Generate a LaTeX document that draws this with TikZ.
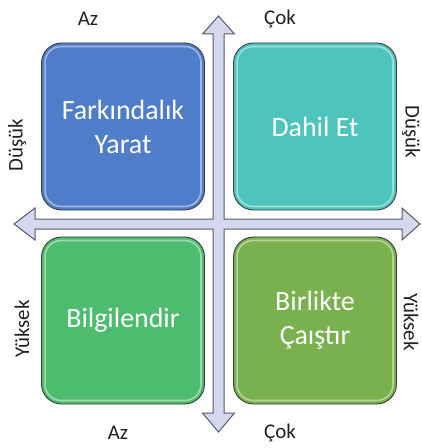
\documentclass[tikz,border=0pt]{standalone}
\usepackage{fontspec}
\setmainfont{Carlito}
\definecolor{arrowfill}{HTML}{D3D8EE}
\definecolor{arrowline}{HTML}{5A5A66}
\definecolor{boxline}{HTML}{3C3C3C}
\definecolor{cblue}{HTML}{4F7DC9}
\definecolor{cteal}{HTML}{4EC5BC}
\definecolor{cgreen}{HTML}{4EBC6E}
\definecolor{colive}{HTML}{79B14F}
\definecolor{lbl}{HTML}{202020}
\begin{document}
\begin{tikzpicture}[x=1bp,y=-1bp,
  quad/.style={draw=boxline,line width=0.9bp,rounded corners=20bp,minimum width=163bp,minimum height=167bp,inner sep=0pt,text=white,align=center,font=\fontsize{28}{34}\selectfont},
  axlbl/.style={text=lbl,font=\fontsize{21}{24}\selectfont,inner sep=0pt},
  gloss/.style={draw=white,opacity=0.45,line width=1.6bp,rounded corners=16bp}]
\useasboundingbox (0,0) rectangle (421,448);
% axes (union outline)
\draw[fill=arrowfill,draw=arrowline,line width=1bp,line join=miter]
  (218.5,16) -- (234.5,34) -- (224,34) -- (224,219) -- (402,219) -- (402,208) -- (420,224)
  -- (402,240) -- (402,229) -- (224,229) -- (224,413) -- (234.5,413) -- (218.5,432)
  -- (202.5,413) -- (213,413) -- (213,229) -- (35,229) -- (35,240) -- (14,224)
  -- (35,208) -- (35,219) -- (213,219) -- (213,34) -- (202.5,34) -- cycle;
% quadrants
\node[quad,fill=cblue] (q1) at (123,126.5) {Farkındalık\\Yarat};
\node[quad,fill=cteal] (q2) at (315,126.5) {Dahil Et};
\node[quad,fill=cgreen] (q3) at (123,320.5) {Bilgilendir};
\node[quad,fill=colive] (q4) at (315,320.5) {Birlikte\\Çaıştır};
% gloss highlights
\foreach \q in {q1,q2,q3,q4}{
  \draw[gloss] ([xshift=4bp,yshift=-4bp]\q.north west) rectangle ([xshift=-4bp,yshift=4bp]\q.south east);
}
% labels
\node[axlbl] (az1) at (88,19) {Az};
\node[axlbl] (cok1) at (280,19) {Çok};
\node[axlbl] (az2) at (118,433) {Az};
\node[axlbl] (cok2) at (280,433) {Çok};
\node[axlbl,rotate=90] (dl) at (17,145) {Düşük};
\node[axlbl,rotate=90] (yl) at (22,329) {Yüksek};
\node[axlbl,rotate=-90] (dr) at (411,132) {Düşük};
\node[axlbl,rotate=-90] (yr) at (411,322) {Yüksek};
\end{tikzpicture}
\end{document}
